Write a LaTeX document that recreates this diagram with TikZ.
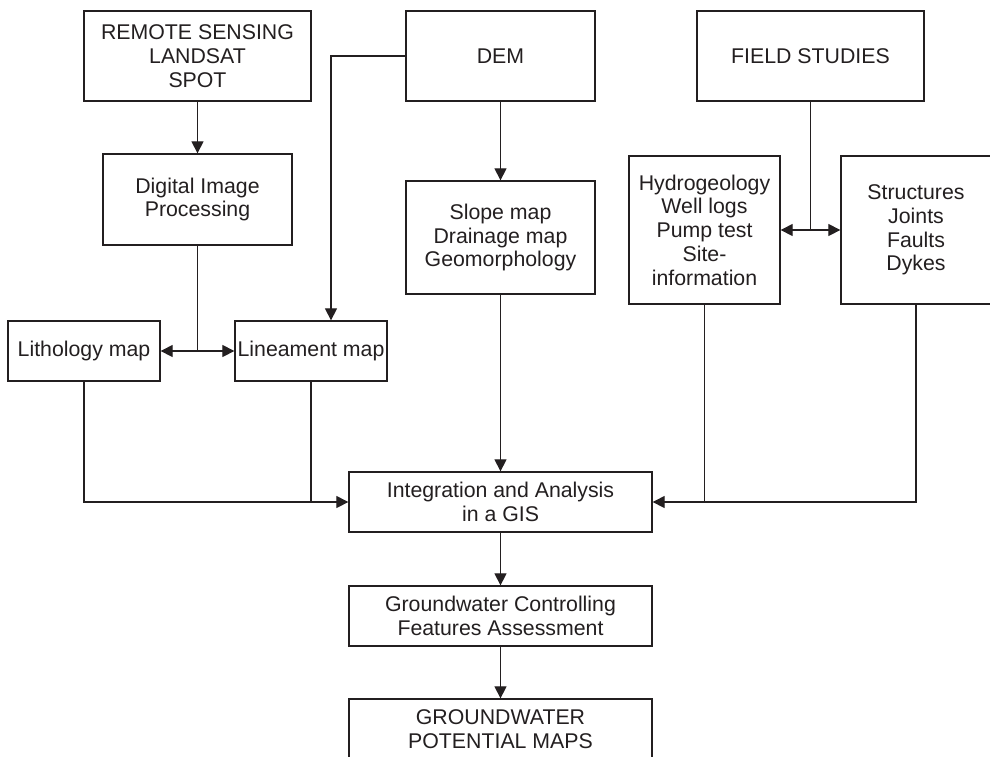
\documentclass[tikz,border=0pt]{standalone}
\usepackage{fontspec}
\setmainfont{Liberation Sans}
\usetikzlibrary{arrows.meta}
\definecolor{ink}{HTML}{231F20}
\begin{document}
\begin{tikzpicture}[x=1pt,y=-1pt,
  box/.style={draw=ink,line width=1.3pt,text=ink,inner sep=0pt,align=center,
    font=\fontsize{21.3}{23.7}\selectfont},
  ln/.style={draw=ink,line width=1.2pt},
  arr/.style={ln,-{Triangle[length=12pt,width=12pt]}}]
\useasboundingbox (0,0) rectangle (990,756);
\fill[white] (0,0) rectangle (990,756);
\node[box,minimum width=227pt,minimum height=90pt] (rs) at (197.5,56) {REMOTE SENSING\\LANDSAT\\SPOT};
\node[box,minimum width=189pt,minimum height=90pt] (dem) at (500.5,56) {DEM};
\node[box,minimum width=227pt,minimum height=90pt] (field) at (810.5,56) {FIELD STUDIES};
\node[box,minimum width=189pt,minimum height=91pt] (dip) at (197.5,199.5) {Digital Image\\Processing};
\node[box,minimum width=189pt,minimum height=113pt] (slope) at (500.5,237.5) {Slope map\\Drainage map\\Geomorphology};
\node[box,minimum width=151pt,minimum height=148pt] (hydro) at (704.5,230) {Hydrogeology\\Well logs\\Pump test\\Site-\\information};
\node[box,minimum width=150pt,minimum height=148pt] (struct) at (916,230) {Structures\\Joints\\Faults\\Dykes};
\node[box,minimum width=152pt,minimum height=60pt] (lith) at (84,351) {Lithology map};
\node[box,minimum width=152pt,minimum height=60pt] (lin) at (311,351) {Lineament map};
\node[box,minimum width=303pt,minimum height=60pt] (integ) at (500.5,502) {Integration and Analysis\\in a GIS};
\node[box,minimum width=303pt,minimum height=60pt] (gcfa) at (500.5,616) {Groundwater Controlling\\Features Assessment};
\node[box,minimum width=303pt,minimum height=60pt] (gpm) at (500.5,729) {GROUNDWATER\\POTENTIAL MAPS};
\coordinate (j1) at (dip.south |- lith.east);
\coordinate (j2) at (field.south |- hydro.east);
\coordinate (lintop) at ([xshift=20pt]lin.north);
\draw[arr] (rs.south) -- (dip.north);
\draw[arr] (dem.south) -- (slope.north);
\draw[arr] (dem.west) -| (lintop);
\draw[ln] (dip.south) -- (j1);
\draw[arr] (j1) -- (lith.east);
\draw[arr] (j1) -- (lin.west);
\draw[ln] (field.south) -- (j2);
\draw[arr] (j2) -- (hydro.east);
\draw[arr] (j2) -- (struct.west);
\draw[arr] (lith.south) |- (integ.west);
\draw[ln] (lin.south) -- (lin.south |- integ.west);
\draw[arr] (slope.south) -- (integ.north);
\draw[arr] (struct.south) |- (integ.east);
\draw[ln] (hydro.south) -- (hydro.south |- integ.east);
\draw[arr] (integ.south) -- (gcfa.north);
\draw[arr] (gcfa.south) -- (gpm.north);
\end{tikzpicture}
\end{document}
